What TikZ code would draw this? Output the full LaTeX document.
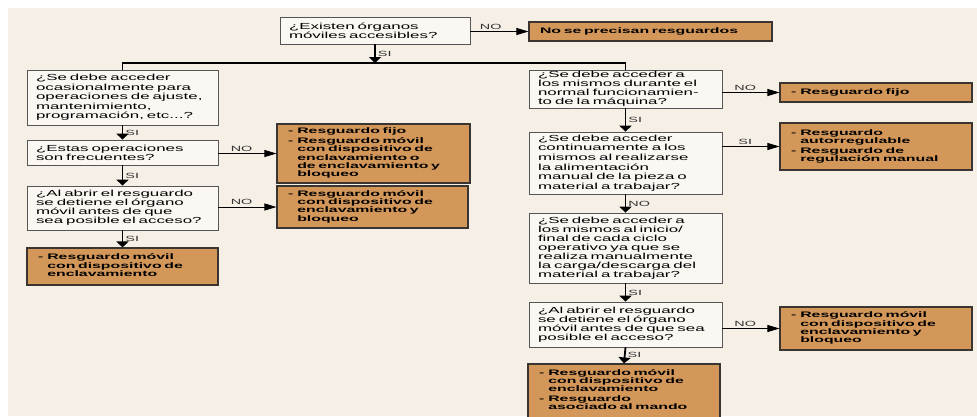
\documentclass[tikz,border=0pt]{standalone}
\usepackage{fontspec}
\setmainfont{Liberation Sans}
\newfontfamily\qfam{Liberation Sans}[FakeStretch=1.92]
\newfontfamily\rfam{Liberation Sans}[FakeStretch=1.98]
\usetikzlibrary{arrows.meta}
\definecolor{bgbeige}{HTML}{F6EFE6}
\definecolor{boxorange}{HTML}{D4975A}
\definecolor{qfill}{HTML}{FBF8F4}
\definecolor{qline}{HTML}{555555}
\definecolor{rline}{HTML}{3A3530}
\definecolor{labgray}{HTML}{333333}
\newcommand{\qfont}{\qfam\fontsize{8.8}{9}\selectfont}
\newcommand{\qfontwide}{\qfam\fontsize{8.8}{9.6}\selectfont}
\newcommand{\rfont}{\rfam\bfseries\fontsize{8}{8.1}\selectfont}
\newcommand{\guards}[1]{\begin{tabular}{@{}l@{\hspace{4pt}}l@{}}#1\end{tabular}}

\begin{document}
\begin{tikzpicture}[x=1pt,y=-1pt,
  qbox/.style={draw=qline,fill=qfill,line width=0.7pt,inner xsep=9pt,inner ysep=0pt,align=left,font=\qfont},
  rbox/.style={draw=rline,fill=boxorange,line width=1.1pt,inner xsep=11pt,inner ysep=0pt,align=left,font=\rfont},
  down/.style={line width=1.8pt,-{Triangle[width=12pt,length=6pt]}},
  side/.style={line width=0.8pt,-{Triangle[width=7pt,length=12pt]}},
  link/.style={line width=1.8pt},
  lab/.style={font=\qfam\fontsize{7.5}{8}\selectfont,text=labgray,inner sep=2pt}]
\useasboundingbox (0,0) rectangle (977,416);
\clip (0,0) rectangle (977,416);
\fill[bgbeige] (8,8) rectangle (977,416);

% questions
\node[qbox,text width=172pt,minimum height=27pt] (Q0) at (375,30.5) {¿Existen órganos\\móviles accesibles?};
\node[qbox,text width=173pt,minimum height=55pt,font=\qfontwide] (Q1) at (122.5,97.5) {¿Se debe acceder\\ocasionalmente para\\operaciones de ajuste,\\mantenimiento,\\programación, etc...?};
\node[qbox,text width=173pt,minimum height=25pt] (Q2) at (122.5,152.5) {¿Estas operaciones\\son frecuentes?};
\node[qbox,text width=173pt,minimum height=44pt] (Q3) at (122.5,208) {¿Al abrir el resguardo\\se detiene el órgano\\móvil antes de que\\sea posible el acceso?};
\node[qbox,text width=175pt,minimum height=38pt] (Q4) at (625.5,89) {¿Se debe acceder a\\los mismos durante el\\normal funcionamien-\\to de la máquina?};
\node[qbox,text width=175pt,minimum height=62pt,font=\qfontwide] (Q5) at (625.5,163) {¿Se debe acceder\\continuamente a los\\mismos al realizarse\\la alimentación\\manual de la pieza o\\material a trabajar?};
\node[qbox,text width=175pt,minimum height=70pt] (Q6) at (625.5,248) {¿Se debe acceder a\\los mismos al inicio/\\final de cada ciclo\\operativo ya que se\\realiza manualmente\\la carga/descarga del\\material a trabajar?};
\node[qbox,text width=175pt,minimum height=45pt] (Q7) at (625.5,324.5) {¿Al abrir el resguardo\\se detiene el órgano\\móvil antes de que sea\\posible el acceso?};

% guards
\node[rbox,text width=221pt,minimum height=19pt] (R0) at (650.5,31.5) {No se precisan resguardos};
\node[rbox,text width=171pt,minimum height=59pt] (R1) at (373.5,153.5) {\guards{-&Resguardo fijo\\[1.5pt] -&Resguardo móvil\\ &con dispositivo de\\ &enclavamiento o\\ &de enclavamiento y\\ &bloqueo}};
\node[rbox,text width=169pt,minimum height=42pt] (R2) at (372.5,207) {\guards{-&Resguardo móvil\\ &con dispositivo de\\ &enclavamiento y\\ &bloqueo}};
\node[rbox,text width=169pt,minimum height=37pt] (R3) at (122.5,266.5) {\guards{-&Resguardo móvil\\ &con dispositivo de\\ &enclavamiento}};
\node[rbox,text width=170pt,minimum height=19pt] (R4) at (876,92.5) {\guards{-&Resguardo fijo}};
\node[rbox,text width=170pt,minimum height=47pt] (R5) at (876,146.5) {\guards{-&Resguardo\\ &autorregulable\\[1.5pt] -&Resguardo de\\ &regulación manual}};
\node[rbox,text width=170pt,minimum height=43pt] (R7) at (876,328.5) {\guards{-&Resguardo móvil\\ &con dispositivo de\\ &enclavamiento y\\ &bloqueo}};
\node[rbox,text width=170pt,minimum height=62pt] (R8) at (624,395) {\guards{-&Resguardo móvil\\ &con dispositivo de\\ &enclavamiento\\[1.5pt] -&Resguardo\\ &asociado al mando\\ &}};

% connectors
\coordinate (J) at (375,63);
\draw[side] (Q0.east |- R0.west) -- (R0.west) node[lab,pos=0.35,above] {NO};
\draw[down] (Q0.south) -- (J) node[lab,midway,right] {SI};
\draw[link] (Q1.north) -- (Q1.north |- J) -- (Q4.north |- J) -- (Q4.north);
\draw[down] (Q1.south) -- (Q2.north) node[lab,midway,right] {SI};
\draw[side] (Q2.east |- R1.west) -- (R1.west) node[lab,pos=0.4,above] {NO};
\draw[down] (Q2.south) -- (Q3.north) node[lab,midway,right] {SI};
\draw[side] (Q3.east |- R2.west) -- (R2.west) node[lab,pos=0.4,above] {NO};
\draw[down] (Q3.south) -- (R3.north) node[lab,midway,right] {SI};
\draw[side] (Q4.east |- R4.west) -- (R4.west) node[lab,pos=0.4,above] {NO};
\draw[down] (Q4.south) -- (Q5.north) node[lab,midway,right] {SI};
\draw[side] (Q5.east |- R5.west) -- (R5.west) node[lab,pos=0.4,above] {SI};
\draw[down] (Q5.south) -- (Q6.north) node[lab,midway,right] {NO};
\draw[down] (Q6.south) -- (Q7.north) node[lab,midway,right] {SI};
\draw[side] (Q7.east |- R7.west) -- (R7.west) node[lab,pos=0.4,above] {NO};
\draw[down] (Q7.south) -- (R8.north) node[lab,midway,right] {SI};
\end{tikzpicture}
\end{document}
